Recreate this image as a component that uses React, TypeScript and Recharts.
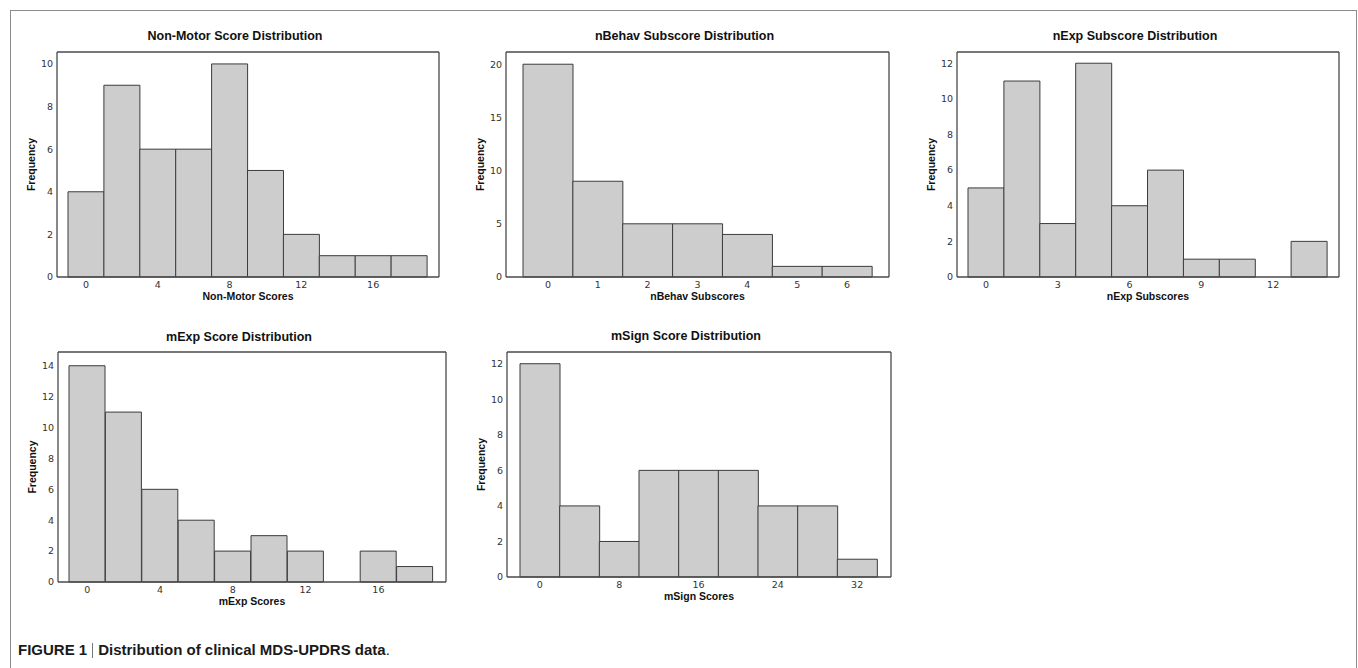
import React from 'react';
import { BarChart, Bar, XAxis, YAxis, CartesianGrid } from 'recharts';

// ---- Data ----
const nonMotorBins = [0, 2, 4, 6, 8, 10, 12, 14, 16, 18];
const nonMotorCounts = [4, 9, 6, 6, 10, 5, 2, 1, 1, 1];
const nonMotorXTicks = [0, 4, 8, 12, 16];
const nonMotorYTicks = [0, 2, 4, 6, 8, 10];

const nBehavBins = [0, 1, 2, 3, 4, 5, 6];
const nBehavCounts = [20, 9, 5, 5, 4, 1, 1];
const nBehavXTicks = [0, 1, 2, 3, 4, 5, 6];
const nBehavYTicks = [0, 5, 10, 15, 20];

const nExpBins = [0, 1.5, 3, 4.5, 6, 7.5, 9, 10.5, 12, 13.5];
const nExpCounts = [5, 11, 3, 12, 4, 6, 1, 1, 0, 2];
const nExpXTicks = [0, 3, 6, 9, 12];
const nExpYTicks = [0, 2, 4, 6, 8, 10, 12];

const mExpBins = [0, 2, 4, 6, 8, 10, 12, 14, 16, 18];
const mExpCounts = [14, 11, 6, 4, 2, 3, 2, 0, 2, 1];
const mExpXTicks = [0, 4, 8, 12, 16];
const mExpYTicks = [0, 2, 4, 6, 8, 10, 12, 14];

const mSignBins = [0, 4, 8, 12, 16, 20, 24, 28, 32];
const mSignCounts = [12, 4, 2, 6, 6, 6, 4, 4, 1];
const mSignXTicks = [0, 8, 16, 24, 32];
const mSignYTicks = [0, 2, 4, 6, 8, 10, 12];

const FRAME = '#4a4a4a';
const TICK_FONT = '"DejaVu Sans", Verdana, sans-serif';
const BOLD_FONT = '"Liberation Sans", Arial, sans-serif';

type PanelProps = {
  title: string;
  xLabel: string;
  bins: number[];
  counts: number[];
  xTicks: number[];
  yTicks: number[];
  yMax: number;
  px: number; py: number; pw: number; ph: number;
  padL: number; padR: number;
  titleY: number;
};

const ML = 50; // y-axis width
const MT = 30; // top margin

function Panel(p: PanelProps) {
  const data = p.bins.map((b, i) => ({ bin: b, count: p.counts[i] }));
  const width = p.pw + ML + 10;
  const height = p.ph + MT + 45;
  return (
    <>
      <div style={{ position: 'absolute', left: p.px + p.pw / 2 - 13 - 150, width: 300, top: p.titleY - 8, textAlign: 'center', fontFamily: BOLD_FONT, fontWeight: 'bold', fontSize: 12.5, lineHeight: '16px', color: '#111' }}>
        {p.title}
      </div>
      <div style={{ position: 'absolute', left: p.px - ML, top: p.py - MT }}>
        <BarChart
          width={width}
          height={height}
          data={data}
          margin={{ top: MT, right: 10, bottom: 0, left: 0 }}
          barCategoryGap={0}
          barGap={0}
        >
          <CartesianGrid
            stroke={FRAME}
            strokeWidth={1.3}
            horizontalCoordinatesGenerator={({ offset }: any) => [offset.top]}
            verticalCoordinatesGenerator={({ offset }: any) => [offset.left + offset.width]}
          />
          <XAxis
            dataKey="bin"
            type="category"
            ticks={p.xTicks}
            interval={0}
            height={45}
            padding={{ left: p.padL, right: p.padR }}
            tickLine={false}
            tickSize={0}
            tickMargin={4}
            axisLine={{ stroke: FRAME, strokeWidth: 1.3 }}
            tick={{ fontSize: 9.5, fill: '#333', fontFamily: TICK_FONT }}
            label={{ value: p.xLabel, position: 'insideTop', offset: 16, fontSize: 10.5, fontWeight: 'bold', fill: '#111', fontFamily: BOLD_FONT }}
          />
          <YAxis
            width={ML}
            domain={[0, p.yMax]}
            ticks={p.yTicks}
            interval={0}
            tickLine={false}
            tickSize={0}
            tickMargin={4}
            axisLine={{ stroke: FRAME, strokeWidth: 1.3 }}
            tick={{ fontSize: 9.5, fill: '#333', fontFamily: TICK_FONT }}
            label={{ value: 'Frequency', angle: -90, position: 'center', dx: -1, fontSize: 10.5, fontWeight: 'bold', fill: '#111', fontFamily: BOLD_FONT }}
          />
          <Bar dataKey="count" fill="#cdcdcd" stroke="#3c3c3c" strokeWidth={1} isAnimationActive={false} />
        </BarChart>
      </div>
    </>
  );
}

export default function App() {
  return (
    <div style={{ position: 'absolute', left: 0, top: 0, width: 1358, height: 668, overflow: 'hidden', background: '#fff' }}>
      <div style={{ position: 'absolute', left: 10, top: 10, width: 1345, height: 700, border: '1px solid #8c8c8c' }} />
      <Panel title="Non-Motor Score Distribution" xLabel="Non-Motor Scores" bins={nonMotorBins} counts={nonMotorCounts}
        xTicks={nonMotorXTicks} yTicks={nonMotorYTicks} yMax={10.56} px={57} py={52} pw={382} ph={225} padL={11} padR={12} titleY={36} />
      <Panel title="nBehav Subscore Distribution" xLabel="nBehav Subscores" bins={nBehavBins} counts={nBehavCounts}
        xTicks={nBehavXTicks} yTicks={nBehavYTicks} yMax={21.15} px={506} py={52} pw={383} ph={225} padL={17} padR={17} titleY={36} />
      <Panel title="nExp Subscore Distribution" xLabel="nExp Subscores" bins={nExpBins} counts={nExpCounts}
        xTicks={nExpXTicks} yTicks={nExpYTicks} yMax={12.63} px={957} py={52} pw={382} ph={225} padL={11} padR={12} titleY={36} />
      <Panel title="mExp Score Distribution" xLabel="mExp Scores" bins={mExpBins} counts={mExpCounts}
        xTicks={mExpXTicks} yTicks={mExpYTicks} yMax={14.89} px={58} py={352} pw={388} ph={230} padL={11} padR={13} titleY={337} />
      <Panel title="mSign Score Distribution" xLabel="mSign Scores" bins={mSignBins} counts={mSignCounts}
        xTicks={mSignXTicks} yTicks={mSignYTicks} yMax={12.66} px={507} py={352} pw={384} ph={225} padL={13} padR={14} titleY={336} />
      <div style={{ position: 'absolute', left: 18, top: 641, fontFamily: '"Liberation Sans Narrow", "Liberation Sans", Arial, sans-serif', fontSize: 15, color: '#1a1a1a', whiteSpace: 'nowrap', lineHeight: '18px' }}>
        <span style={{ fontWeight: 'bold' }}>FIGURE 1</span>
        <span style={{ display: 'inline-block', width: 1, height: 15, background: '#777', margin: '0 5px', verticalAlign: '-3px' }} />
        <span style={{ fontWeight: 'bold' }}>Distribution of clinical MDS-UPDRS data</span>
        <span>.</span>
      </div>
    </div>
  );
}
